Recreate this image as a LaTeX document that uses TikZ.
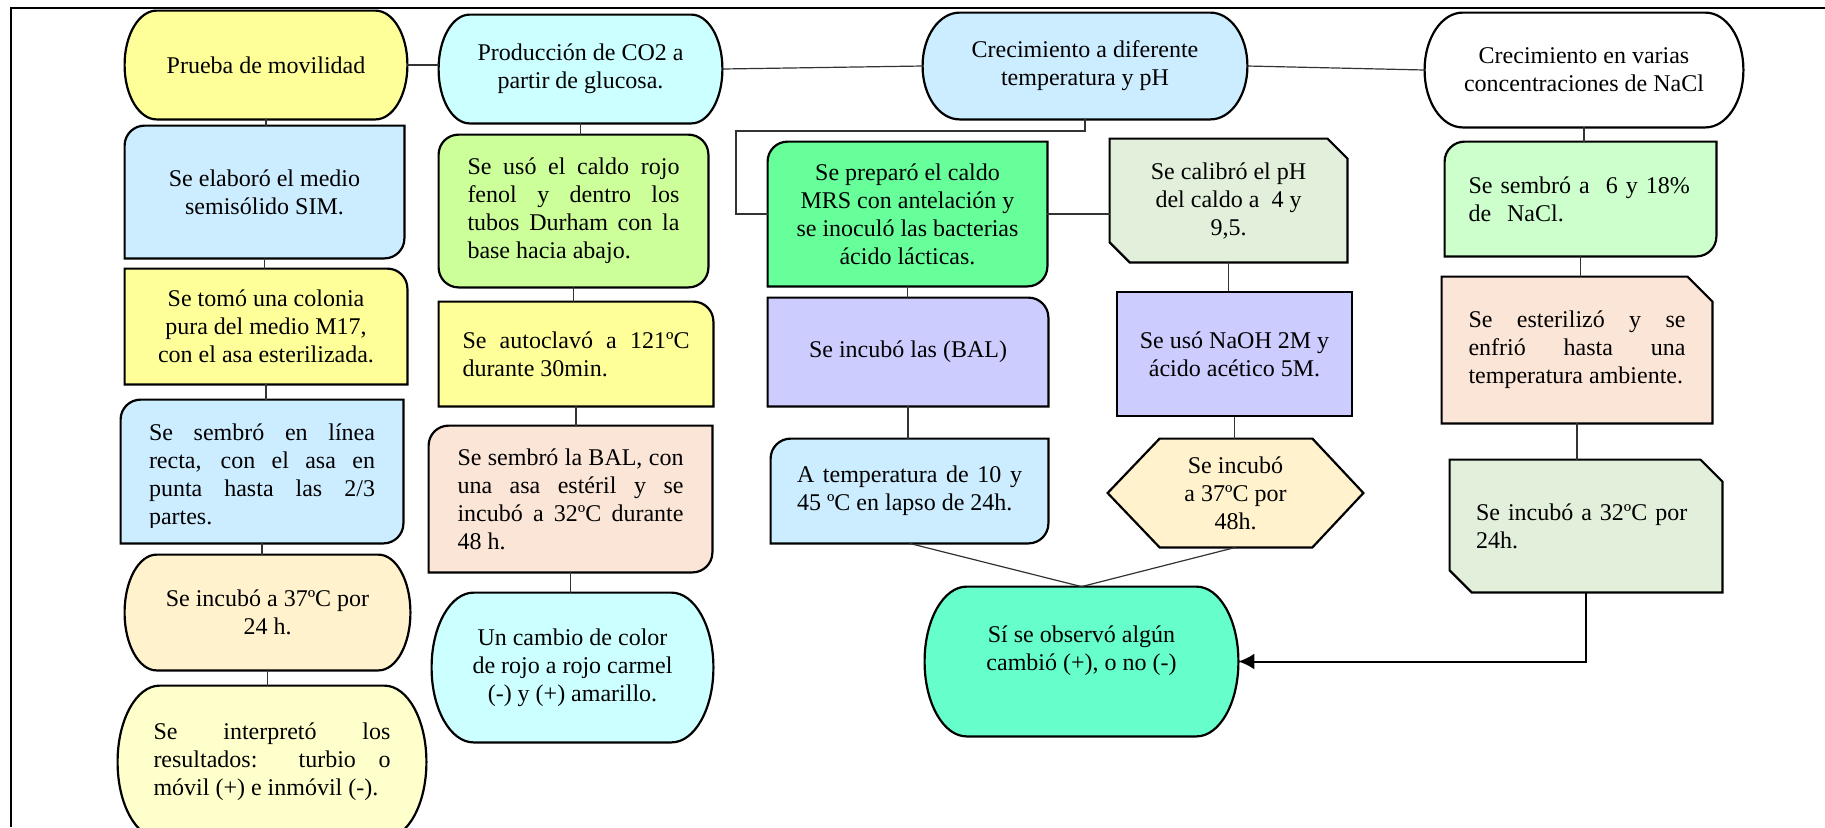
\documentclass[tikz,border=0pt]{standalone}
\usepackage{fontspec}
\setmainfont{Liberation Serif}
\usetikzlibrary{calc,backgrounds,arrows.meta}

\hyphenpenalty=10000
\tolerance=9999
\hbadness=10000

\newcommand\boxfont{\fontsize{12pt}{14pt}\selectfont}

\definecolor{cYellow}{HTML}{FFFF99}
\definecolor{cPaleYellow}{HTML}{FFFFCC}
\definecolor{cSky}{HTML}{CCECFF}
\definecolor{cCyan}{HTML}{CCFFFF}
\definecolor{cCream}{HTML}{FFF2CC}
\definecolor{cLime}{HTML}{CCFF99}
\definecolor{cPeach}{HTML}{FBE5D6}
\definecolor{cMint}{HTML}{66FF99}
\definecolor{cLavender}{HTML}{CCCCFF}
\definecolor{cSage}{HTML}{E2EFDA}
\definecolor{cAqua}{HTML}{66FFCC}
\definecolor{cPaleGreen}{HTML}{CCFFCC}

\tikzset{
  txt/.style={inner sep=0pt, font=\boxfont, text=black},
  boxline/.style={draw=black, line width=1.1pt},
  conn/.style={draw=black!80, line width=0.6pt},
  arrowline/.style={draw=black, line width=1pt, -{Latex[length=8pt,width=8pt]}},
}

% rectangle outline with individually rounded corners: name, fill, r(tl), r(tr), r(br), r(bl)
\newcommand\cbox[6]{%
  \begin{pgfonlayer}{background}
  \filldraw[boxline, fill=#2]
    ($(#1.north west)+(0,-#3)$) to[out=90,in=180] ($(#1.north west)+(#3,0)$)
    -- ($(#1.north east)+(-#4,0)$) to[out=0,in=90] ($(#1.north east)+(0,-#4)$)
    -- ($(#1.south east)+(0,#5)$) to[out=270,in=0] ($(#1.south east)+(-#5,0)$)
    -- ($(#1.south west)+(#6,0)$) to[out=180,in=270] ($(#1.south west)+(0,#6)$)
    -- cycle;
  \end{pgfonlayer}}

% terminator outline with elliptical ends: name, fill, rx, ry
\newcommand\ebox[4]{%
  \begin{pgfonlayer}{background}
  \filldraw[boxline, fill=#2]
    ($(#1.north west)+(0,-#4)$) .. controls +(0,0.552*#4) and +(-0.552*#3,0) .. ($(#1.north west)+(#3,0)$)
    -- ($(#1.north east)+(-#3,0)$) .. controls +(0.552*#3,0) and +(0,0.552*#4) .. ($(#1.north east)+(0,-#4)$)
    -- ($(#1.south east)+(0,#4)$) .. controls +(0,-0.552*#4) and +(0.552*#3,0) .. ($(#1.south east)+(-#3,0)$)
    -- ($(#1.south west)+(#3,0)$) .. controls +(-0.552*#3,0) and +(0,-0.552*#4) .. ($(#1.south west)+(0,#4)$)
    -- cycle;
  \end{pgfonlayer}}

% rectangle outline with cut corners: name, fill, cut(tr), cut(bl)
\newcommand\snipbox[4]{%
  \begin{pgfonlayer}{background}
  \filldraw[boxline, fill=#2]
    (#1.north west) -- ($(#1.north east)+(-#3,0)$) -- ($(#1.north east)+(0,-#3)$)
    -- (#1.south east) -- ($(#1.south west)+(#4,0)$) -- ($(#1.south west)+(0,#4)$)
    -- cycle;
  \end{pgfonlayer}}

\begin{document}
\begin{tikzpicture}[x=0.5pt, y=0.5pt]
\useasboundingbox (0,0) rectangle (1825,-827);
\begin{pgfonlayer}{background}
  \fill[white] (0,0) rectangle (1825,-827);
\end{pgfonlayer}
\clip (0,0) rectangle (1825,-827);

% outer frame
\draw[line width=1pt] (11,-827) -- (11,-8) -- (1825,-8);

% ---------- column 1: motility ----------
\node[txt, align=center, minimum width=141pt, minimum height=54pt] (P1) at (266,-65) {Prueba de movilidad};
\ebox{P1}{cYellow}{32}{54}
\node[txt, align=center, minimum width=139.5pt, minimum height=66pt] (P2) at (264.5,-192)
  {Se elaboró el medio\\semisólido SIM.};
\cbox{P2}{cSky}{20}{0}{20}{0}
\node[txt, align=center, minimum width=141pt, minimum height=57.5pt] (P3) at (266,-326.5)
  {Se tomó una colonia\\pura del medio M17,\\con el asa esterilizada.};
\cbox{P3}{cYellow}{0}{20}{0}{0}
\begin{scope}
  \clip (100,-395) rectangle (420,-527);
  \node[txt, minimum width=141pt, minimum height=71.5pt,
        label={[txt, align=justify, text width=113pt, yshift=-2.5pt]center:{Se sembró en línea\linebreak recta, con el asa en\linebreak punta hasta las 2/3\linebreak partes.}}]
    (P4) at (262,-471.5) {};
\end{scope}
\cbox{P4}{cSky}{20}{0}{20}{0}
\node[txt, align=center, minimum width=142.5pt, minimum height=57.5pt] (P5) at (267.5,-612.5)
  {Se incubó a 37ºC por\\24 h.};
\ebox{P5}{cCream}{32}{57.5}
\node[txt, align=justify, text width=118.5pt, minimum width=154pt, minimum height=76pt] (P6) at (272,-762)
  {Se interpretó los\linebreak resultados: turbio o\linebreak móvil (+) e inmóvil (-).};
\ebox{P6}{cPaleYellow}{42}{76}

% ---------- column 2: CO2 production ----------
\node[txt, align=center, minimum width=141.5pt, minimum height=54pt] (C1) at (580.5,-69)
  {Producción de CO2 a\\partir de glucosa.};
\ebox{C1}{cCyan}{31}{54}
\node[txt, align=justify, text width=106pt, minimum width=134.5pt, minimum height=76pt] (C2) at (573.5,-211)
  {Se usó el caldo rojo\linebreak fenol y dentro los\linebreak tubos Durham con la\linebreak base hacia abajo.};
\cbox{C2}{cLime}{20}{20}{20}{20}
\node[txt, align=justify, text width=113.5pt, minimum width=137pt, minimum height=52pt] (C3) at (576,-354)
  {Se autoclavó a 121ºC\linebreak durante 30min.};
\cbox{C3}{cYellow}{0}{20}{0}{0}
\node[txt, align=justify, text width=113pt, minimum width=141.5pt, minimum height=73pt] (C4) at (570.5,-499)
  {Se sembró la BAL, con\linebreak una asa estéril y se\linebreak incubó a 32ºC durante\linebreak 48 h.};
\cbox{C4}{cPeach}{20}{0}{20}{0}
\node[txt, align=center, minimum width=140.5pt, minimum height=74.5pt] (C5) at (572.5,-667.5)
  {Un cambio de color\\de rojo a rojo carmel\\(-) y (+) amarillo.};
\ebox{C5}{cCyan}{42}{74.5}

% ---------- column 3: temperature and pH ----------
\node[txt, align=center, minimum width=162pt, minimum height=53pt] (T1) at (1085,-66)
  {Crecimiento a diferente\\temperatura y pH};
\ebox{T1}{cSky}{37}{53}
\node[txt, align=center, minimum width=139.5pt, minimum height=72pt] (T2) at (907.5,-214)
  {Se preparó el caldo\\MRS con antelación y\\se inoculó las bacterias\\ácido lácticas.};
\cbox{T2}{cMint}{20}{0}{20}{0}
\node[txt, align=center, minimum width=140pt, minimum height=54pt] (T3) at (908,-352)
  {Se incubó las (BAL)};
\cbox{T3}{cLavender}{0}{20}{0}{0}
\node[txt, align=justify, text width=112.5pt, minimum width=138.5pt, minimum height=52pt] (T4) at (909.5,-491)
  {A temperatura de 10 y\linebreak 45 ºC en lapso de 24h.};
\cbox{T4}{cSky}{20}{0}{20}{0}
\node[txt, align=center, minimum width=118.5pt, minimum height=61.5pt] (T5) at (1228.5,-200.5)
  {Se calibró el pH\\del caldo a~ 4 y\\9,5.};
\snipbox{T5}{cSage}{20}{20}
\node[txt, boxline, fill=cLavender, align=center, minimum width=117.5pt, minimum height=62pt] (T6) at (1234.5,-354)
  {Se usó NaOH 2M y\\ácido acético 5M.};
\node[txt, align=center, minimum width=127.5pt, minimum height=54pt] (T7) at (1235.5,-493)
  {Se incubó\\a 37ºC por\\48h.};
\begin{pgfonlayer}{background}
  \filldraw[boxline, fill=cCream]
    ($(T7.north west)+(52,0)$) -- ($(T7.north east)+(-51,0)$) -- (T7.east)
    -- ($(T7.south east)+(-51,0)$) -- ($(T7.south west)+(52,0)$) -- (T7.west) -- cycle;
\end{pgfonlayer}
\node[txt, minimum width=156.5pt, minimum height=74.5pt,
      label={[txt, align=center, yshift=5.5pt]center:{Sí se observó algún\\cambió (+), o no (-)}}]
  (R) at (1081.5,-661.5) {};
\ebox{R}{cAqua}{42}{74.5}

% ---------- column 4: NaCl ----------
\node[txt, align=center, minimum width=159pt, minimum height=57pt] (N1) at (1584,-70)
  {Crecimiento en varias\\concentraciones de NaCl};
\ebox{N1}{white}{38}{57}
\node[txt, align=left, text width=112pt, minimum width=135.5pt, minimum height=57pt] (N2) at (1580.5,-199)
  {Se sembró a\ \ 6 y 18\%\\de\ \ NaCl.};
\cbox{N2}{cPaleGreen}{20}{0}{20}{0}
\node[txt, align=justify, text width=108.5pt, minimum width=135pt, minimum height=73pt] (N3) at (1577,-350)
  {Se esterilizó y se\linebreak enfrió hasta una\linebreak temperatura ambiente.};
\snipbox{N3}{cPeach}{25}{0}
\node[txt, align=left, text width=110pt, minimum width=136pt, minimum height=66pt] (N4) at (1586,-526)
  {Se incubó a 32ºC por\\24h.};
\snipbox{N4}{cSage}{22}{22}

% ---------- connectors ----------
\draw[conn] (P1.east) -- (P1.east -| C1.west);
\draw[conn] (C1.east) -- (T1.west);
\draw[conn] (T1.east) -- (N1.west);

\draw[conn] (P1.south) -- (P1.south |- P2.north);
\draw[conn] (P2.south) -- (P2.south |- P3.north);
\draw[conn] (P3.south) -- (P3.south |- P4.north);
\draw[conn] (P4.south) -- (P4.south |- P5.north);
\draw[conn] (P5.south) -- (P5.south |- P6.north);

\draw[conn] (C1.south) -- (C1.south |- C2.north);
\draw[conn] (C2.south) -- (C2.south |- C3.north);
\draw[conn] (C3.south) -- (C3.south |- C4.north);
\draw[conn] (C4.south) -- (C4.south |- C5.north);

\coordinate (elbow) at (736,-131);
\draw[conn] (T1.south) |- (elbow) |- (T2.west);
\draw[conn] (T2.east) -- (T2.east -| T5.west);
\draw[conn] (T2.south) -- (T2.south |- T3.north);
\draw[conn] (T3.south) -- (T3.south |- T4.north);
\draw[conn] (T5.south) -- (T5.south |- T6.north);
\draw[conn] (T6.south) -- (T6.south |- T7.north);
\draw[conn] (T4.south) -- (R.north);
\draw[conn] (T7.south) -- (R.north);

\draw[conn] (N1.south) -- (N1.south |- N2.north);
\draw[conn] (N2.south) -- (N2.south |- N3.north);
\draw[conn] (N3.south) -- (N3.south |- N4.north);
\draw[arrowline] (N4.south) |- (R.east);
\end{tikzpicture}
\end{document}
